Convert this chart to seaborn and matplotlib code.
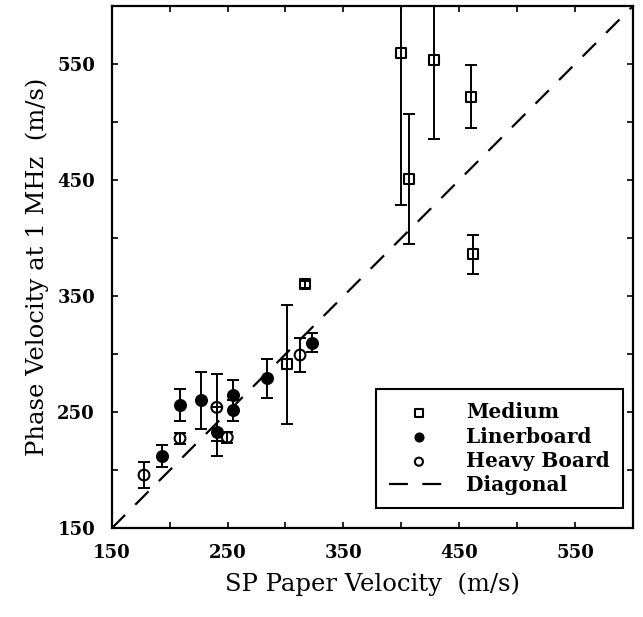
import matplotlib
matplotlib.use("Agg")
import matplotlib.pyplot as plt
import seaborn as sns
import pandas as pd

# ---- data ----
medium_x = [400, 428, 460, 406.5, 462, 316.5, 301.5]
medium_y = [559.5, 553.5, 522, 451, 386, 360.3, 291.3]
medium_err = [131, 68, 27, 56, 16.5, 3, 51.5]

liner_x = [193.7, 209, 226.9, 240.7, 254.5, 254.5, 283.8, 322.7]
liner_y = [212.3, 256.2, 260.5, 233.2, 264.8, 251.9, 279.2, 309.9]
liner_err = [9.5, 13.5, 24.5, 21, 13, 9, 17, 8]

heavy_x = [177.9, 209, 240.7, 249.8, 312.6]
heavy_y = [195.9, 227.5, 254.2, 228.4, 299.3]
heavy_err = [11.5, 5, 29, 5, 15]

diag = [150, 600]

xticks_major = [150, 250, 350, 450, 550]
xticks_minor = [200, 300, 400, 500, 600]
yticks_major = [150, 250, 350, 450, 550]
yticks_minor = [200, 300, 400, 500, 600]

series_names = ["Medium", "Linerboard", "Heavy Board"]

sns.set_style("ticks")
plt.rcParams["font.family"] = ["DejaVu Serif"]
plt.rcParams["text.color"] = "black"
plt.rcParams["axes.labelcolor"] = "black"
plt.rcParams["xtick.color"] = "black"
plt.rcParams["ytick.color"] = "black"

fig = plt.figure(figsize=(6.43, 6.17), dpi=100)
ax = fig.add_axes([0.1737, 0.1437, 0.8107, 0.8466])

df = pd.concat([
    pd.DataFrame({"x": medium_x, "y": medium_y, "err": medium_err, "kind": series_names[0]}),
    pd.DataFrame({"x": liner_x, "y": liner_y, "err": liner_err, "kind": series_names[1]}),
    pd.DataFrame({"x": heavy_x, "y": heavy_y, "err": heavy_err, "kind": series_names[2]}),
], ignore_index=True)

# error bars
ax.errorbar(df["x"], df["y"], yerr=df["err"], fmt="none", ecolor="black",
            elinewidth=1.4, capsize=4, capthick=1.4, zorder=2)

# markers
sub = df[df.kind == "Medium"]
sns.scatterplot(x=sub.x, y=sub.y, ax=ax, marker="s", s=52, facecolor="none",
                edgecolor="black", linewidth=1.5, label="Medium", zorder=3)
sub = df[df.kind == "Linerboard"]
sns.scatterplot(x=sub.x, y=sub.y, ax=ax, marker="o", s=70, color="black",
                edgecolor="black", linewidth=1.0, label="Linerboard", zorder=3)
sub = df[df.kind == "Heavy Board"]
sns.scatterplot(x=sub.x, y=sub.y, ax=ax, marker="o", s=60, facecolor="none",
                edgecolor="black", linewidth=1.5, label="Heavy Board", zorder=3)

sns.lineplot(x=diag, y=diag, ax=ax, color="black", linewidth=1.6,
             linestyle=(0, (8.5, 6.5)), label="Diagonal", zorder=1)

ax.set_xlim(150, 600)
ax.set_ylim(150, 600)
ax.set_xticks(xticks_major)
ax.set_xticks(xticks_minor, minor=True)
ax.set_yticks(yticks_major)
ax.set_yticks(yticks_minor, minor=True)
ax.tick_params(which="both", direction="in", top=True, right=True,
               length=4, width=1.2, colors="black")
ax.tick_params(axis="x", which="major", pad=11)
ax.tick_params(axis="y", which="major", pad=12)
for lab in ax.get_xticklabels() + ax.get_yticklabels():
    lab.set_fontsize(13)
    lab.set_fontweight("bold")
for sp in ax.spines.values():
    sp.set_linewidth(1.6)
    sp.set_color("black")

ax.set_xlabel("SP Paper Velocity  (m/s)", fontsize=17.5, labelpad=8, color="black")
ax.set_ylabel("Phase Velocity at 1 MHz  (m/s)", fontsize=17.5, labelpad=6, color="black")

leg = ax.legend(loc="lower right", bbox_to_anchor=(0.981, 0.038), borderaxespad=0,
                fontsize=14.5, frameon=True, fancybox=False, edgecolor="black",
                framealpha=1, labelspacing=0.22, handlelength=3.0,
                handletextpad=0.85, borderpad=0.65, markerscale=0.75)
leg.get_frame().set_linewidth(1.5)
for t in leg.get_texts():
    t.set_fontweight("bold")
    t.set_color("black")

fig.savefig("out.png", dpi=100)
